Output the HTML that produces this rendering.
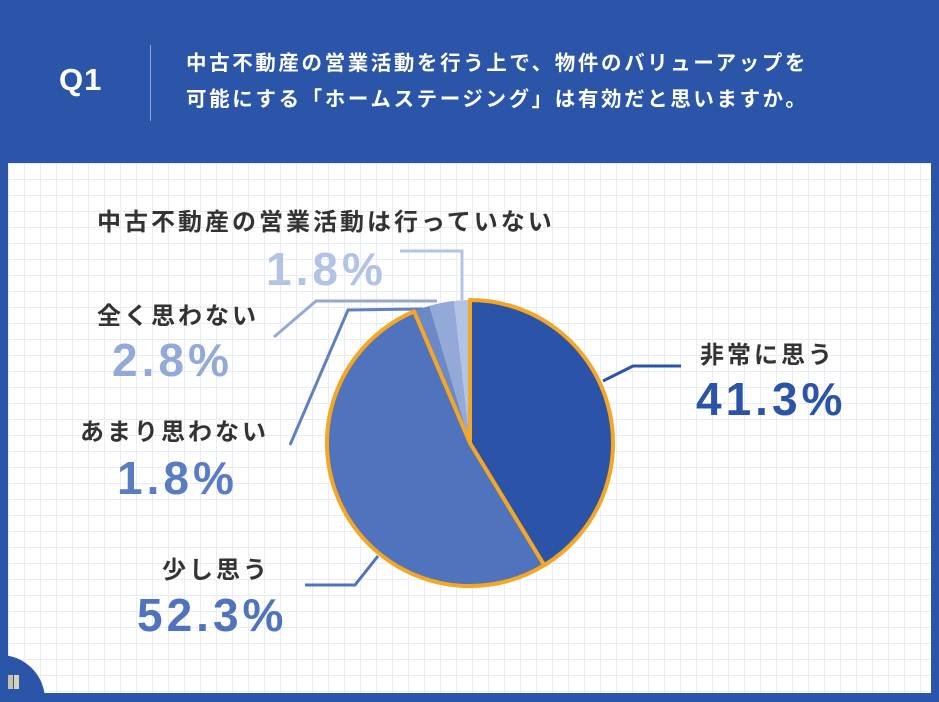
<!DOCTYPE html>
<html><head><meta charset="utf-8"><style>
body{margin:0;width:939px;height:702px;overflow:hidden;background:#2a55a8;font-family:"Liberation Sans","Noto Sans CJK JP",sans-serif;}
.t{position:absolute;white-space:nowrap;font-weight:bold;}
.l{font-size:24px;letter-spacing:3px;color:#333}
.p{font-size:46px;letter-spacing:4px}
</style></head><body>
<div style="position:absolute;left:8px;top:163px;width:923px;height:530px;background-color:#fff;background-image:linear-gradient(#e9edf3 1px,transparent 1px),linear-gradient(90deg,#e9edf3 1px,transparent 1px);background-size:16px 16px;"></div>
<div style="position:absolute;left:0;top:655px;width:45px;height:47px;background:#2a55a8;border-top-right-radius:45px;"></div>
<div style="position:absolute;left:8px;top:675px;width:5px;height:14px;background:#c9c2a4"></div>
<div style="position:absolute;left:14px;top:675px;width:5px;height:14px;background:#d8d2b8"></div>
<div class="t" style="left:59px;top:62px;font-size:31px;letter-spacing:1px;color:#fff">Q1</div>
<div style="position:absolute;left:150px;top:45px;width:1px;height:76px;background:#8ea6d6"></div>
<div class="t" style="left:186px;top:46px;font-size:20.5px;letter-spacing:2.6px;color:#fff;line-height:36px">中古不動産の営業活動を行う上で、物件のバリューアップを<br>可能にする「ホームステージング」は有効だと思いますか。</div>
<svg style="position:absolute;left:0;top:0" width="939" height="702">
<g fill="none" stroke-width="3">
<polyline points="603,381 633,366 681,366" stroke="#2b54a8"/>
<polyline points="378,556 355,585 305,585" stroke="#4f74bd"/>
<polyline points="423,309 348,310 290,445" stroke="#5f80c3"/>
<polyline points="437,301 316,301 274,337" stroke="#93aad8"/>
<polyline points="400,251 462,251 462,300" stroke="#b3c3e4"/>
</g>
<path d="M470,443 L429.4,305.9 A143,143 0 0 1 454.1,300.9Z" fill="#93aad8"/>
<path d="M470,443 L454.1,300.9 A143,143 0 0 1 470,300Z" fill="#b3c3e4"/>
<path d="M470,443 L414.1,311.4 A143,143 0 0 1 429.4,305.9Z" fill="#6a89c6"/>
<path d="M470,443 L544.3,565.2 A143,143 0 1 1 414.1,311.4Z" fill="#4f74bd" stroke="#f5a623" stroke-width="4" stroke-linejoin="round"/>
<path d="M470,443 L470,300 A143,143 0 0 1 544.3,565.2Z" fill="#2b54a8" stroke="#f5a623" stroke-width="4" stroke-linejoin="round"/>
</svg>
<div class="t l" style="left:97px;top:202px">中古不動産の営業活動は行っていない</div>
<div class="t p" style="left:266px;top:242px;color:#b3c3e4">1.8%</div>
<div class="t l" style="left:97px;top:296px">全く思わない</div>
<div class="t p" style="left:112px;top:333px;color:#93aad8">2.8%</div>
<div class="t l" style="left:80px;top:412px">あまり思わない</div>
<div class="t p" style="left:117px;top:451px;color:#5a7cc2">1.8%</div>
<div class="t l" style="left:162px;top:550px">少し思う</div>
<div class="t p" style="left:137px;top:588px;color:#4f74bd">52.3%</div>
<div class="t l" style="left:700px;top:335px">非常に思う</div>
<div class="t p" style="left:696px;top:372px;color:#2b54a8">41.3%</div>
</body></html>
